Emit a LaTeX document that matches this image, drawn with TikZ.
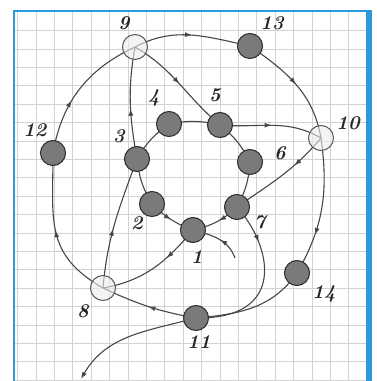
\documentclass[tikz,border=0pt]{standalone}
\usetikzlibrary{arrows.meta,decorations.markings}
\pgfdeclarelayer{gridlayer}
\pgfdeclarelayer{edgelayer}
\pgfsetlayers{gridlayer,edgelayer,main}
\definecolor{conncol}{HTML}{474747}
\definecolor{bluebd}{HTML}{2A9AD8}
\definecolor{gridcol}{HTML}{D2D2D2}
\begin{document}
\begin{tikzpicture}[x=1pt,y=1pt,
  dot/.style={circle,minimum size=25pt,inner sep=0pt,fill=black!52,draw=black!80,line width=1.1pt},
  hollow/.style={circle,minimum size=25pt,inner sep=0pt,draw=black!65,line width=1pt,fill=black!7,fill opacity=0.6},
  lbl/.style={font=\fontsize{19.5}{19.5}\selectfont\bfseries\itshape,text=black!85,inner sep=0pt},
  conn/.style={draw=conncol,line width=1.1pt},
  midarr/.style={postaction={decorate},decoration={markings,mark=at position #1 with {\arrow{Latex[length=7pt,width=5pt]}}}}
]
\useasboundingbox (0,0) rectangle (377,381);
\begin{pgfonlayer}{gridlayer}
\fill[white] (0,0) rectangle (377,381);
\begin{scope}
\clip (14,0) rectangle (366,370);
\foreach \k in {0,...,18} \draw[gridcol,line width=0.6pt] ({17.4+18.4*\k},0) -- ({17.4+18.4*\k},370);
\foreach \k in {-3,...,16} \draw[gridcol,line width=0.6pt] (14,{56+18.4*\k}) -- (366,{56+18.4*\k});
\end{scope}
\draw[bluebd,line width=2pt] (14,0) -- (14,370) -- (366,370);
\fill[bluebd] (365.5,0) rectangle (371.5,371);
\end{pgfonlayer}

% nodes
\node[dot] (n1) at (193,151) {};
\node[dot] (n2) at (152,177) {};
\node[dot] (n3) at (137,222) {};
\node[dot] (n4) at (169,257) {};
\node[dot] (n5) at (220,256) {};
\node[dot] (n6) at (250,219) {};
\node[dot] (n7) at (237,174) {};
\node[hollow] (n8) at (103,93) {};
\node[hollow] (n9) at (135,334) {};
\node[hollow] (n10) at (321,243) {};
\node[dot] (n11) at (196,63) {};
\node[dot] (n12) at (53,228) {};
\node[dot] (n13) at (250,335) {};
\node[dot] (n14) at (297,108) {};
\coordinate (s1) at (235,123);
\coordinate (exitpt) at (81,2);

% labels
\node[lbl] (l1) at (197,124) {1};
\node[lbl] (l2) at (137,158) {2};
\node[lbl] (l3) at (119,245) {3};
\node[lbl] (l4) at (154,283) {4};
\node[lbl] (l5) at (215,286) {5};
\node[lbl] (l6) at (280,228) {6};
\node[lbl] (l7) at (260,159) {7};
\node[lbl] (l8) at (83,70) {8};
\node[lbl] (l9) at (124,358) {9};
\node[lbl] (l10) at (348,258) {10};
\node[lbl] (l11) at (199,39) {11};
\node[lbl] (l12) at (35,251) {12};
\node[lbl] (l13) at (272,358) {13};
\node[lbl] (l14) at (324,87) {14};

\begin{pgfonlayer}{edgelayer}
% outer loop
\draw[conn,midarr=0.4] (n12.center) to[out=80,in=205] (n9.center);
\draw[conn,midarr=0.5] (n9.center) to[out=28,in=168] (n13.center);
\draw[conn,midarr=0.5] (n13.center) to[out=-35,in=100] (n10.center);
\draw[conn,midarr=0.7] (n10.center) to[out=-82,in=60] (n14.center);
\draw[conn] (n14.center) to[out=-125,in=5] (n11.center);
\draw[conn,midarr=0.5] (n11.center) to[out=170,in=-25] (n8.center);
\draw[conn,midarr=0.5] (n8.center) to[out=150,in=-90,looseness=1.2] (n12.center);
% inner paths
\draw[conn,midarr=0.5] (n9.center) to[out=-30,in=140] (n5.center);
\draw[conn,midarr=0.5] (n5.center) to[out=-5,in=150] (n10.center);
\draw[conn,midarr=0.35] (n10.center) to[out=-130,in=35] (n7.center);
\draw[conn,midarr=0.45] (n7.center) to[bend left=15] (n1.center);
\draw[conn,midarr=0.5] (n2.center) to[bend right=12] (n1.center);
\draw[conn,midarr=0.35] (n1.center) to[out=-130,in=10] (n8.center);
\draw[conn,midarr=0.45] (n8.center) to[out=85,in=-110] (n3.center);
\draw[conn,midarr=0.45] (n3.center) to[out=100,in=-100] (n9.center);
\draw[conn,midarr=0.45] (s1) to[out=110,in=-15] (n1.center);
\draw[conn,midarr=0.25] (n7.center) .. controls (272,135) and (288,62) .. (n11.center);
\draw[conn,-{Latex[length=7pt,width=5pt]}] (n11.center) to[out=195,in=60] (exitpt);
% ring
\draw[conn] (n2.center) to[bend left=12] (n3.center);
\draw[conn] (n3.center) to[bend left=12] (n4.center);
\draw[conn] (n4.center) to[bend left=12] (n5.center);
\draw[conn] (n5.center) to[bend left=12] (n6.center);
\draw[conn] (n6.center) to[bend left=12] (n7.center);
\end{pgfonlayer}
\end{tikzpicture}
\end{document}
